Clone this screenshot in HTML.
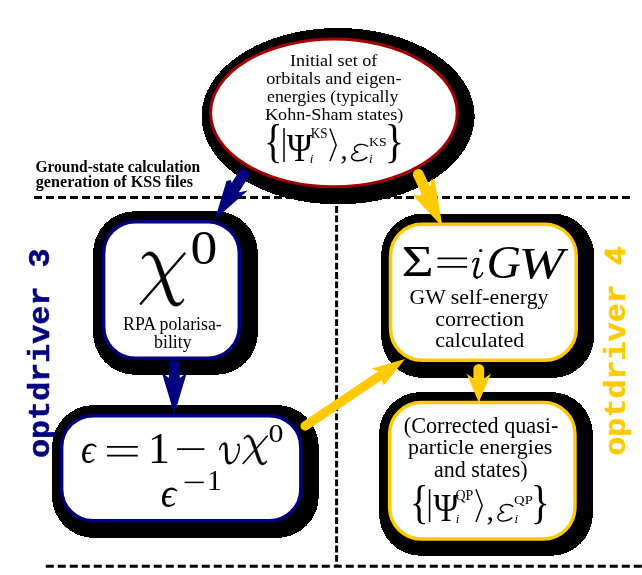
<!DOCTYPE html>
<html>
<head>
<meta charset="utf-8">
<title>GW flowchart</title>
<style>
html,body{margin:0;padding:0;background:#fff;}
body{width:642px;height:575px;overflow:hidden;}
svg{display:block;will-change:transform;}
text{font-family:"Liberation Serif",serif;fill:#000;}
.s{font-family:"Liberation Serif",serif;}
.i{font-family:"Liberation Serif",serif;font-style:italic;}
.m{font-family:"Liberation Mono",monospace;font-weight:bold;}
.b{font-family:"Liberation Serif",serif;font-weight:bold;}
</style>
</head>
<body>
<svg width="642" height="575" viewBox="0 0 642 575">
<rect x="0" y="0" width="642" height="575" fill="#ffffff"/>

<!-- dashed guide lines -->
<g stroke="#000" stroke-width="3" fill="none">
  <line x1="34" y1="197.5" x2="630" y2="197.5" stroke-dasharray="8 4"/>
  <line x1="45.8" y1="566.3" x2="650" y2="566.3" stroke-dasharray="8 4"/>
  <line x1="336.6" y1="196.67" x2="336.6" y2="567" stroke-dasharray="6.8 2.63"/>
</g>


<!-- black shadows -->
<g fill="#000" shape-rendering="crispEdges">
  <ellipse cx="338.1" cy="116.2" rx="136.6" ry="88.2"/>
  <rect x="93" y="211.2" width="164.9" height="163.6" rx="42" ry="42"/>
  <rect x="381.1" y="213.5" width="213.1" height="164.5" rx="42" ry="42"/>
  <rect x="52" y="405" width="266.8" height="133" rx="42" ry="42"/>
  <rect x="379" y="392" width="213.9" height="163.8" rx="42" ry="42"/>
</g>

<!-- shapes -->
<ellipse cx="333.9" cy="112.9" rx="123.3" ry="73.9" fill="#fff" stroke="#a40000" stroke-width="3"/>
<g fill="#fff" stroke="#000080" stroke-width="3.5">
  <rect x="103.65" y="221.65" width="135.7" height="136.5" rx="31.5" ry="31.5"/>
  <rect x="61.65" y="415.65" width="239.2" height="105" rx="31.5" ry="31.5"/>
</g>
<g fill="#fff" stroke="#ffcb00" stroke-width="3.5">
  <rect x="390.55" y="224.15" width="185.7" height="136.1" rx="31.5" ry="31.5"/>
  <rect x="389.65" y="402.45" width="185.3" height="136.5" rx="31.5" ry="31.5"/>
</g>

<!-- arrows -->
<!-- blue: ellipse -> chi0 -->
<g fill="#000080" stroke="none">
  <line x1="243.5" y1="174.6" x2="230.5" y2="195" stroke="#000080" stroke-width="11" stroke-linecap="round"/>
  <polygon points="214.9,219.4 226.5,180.9 230.8,180.1 232.2,184 239.3,192.2 247.8,190.4"/>
  <line x1="174.35" y1="365.2" x2="174.35" y2="388.5" stroke="#000080" stroke-width="10.8" stroke-linecap="round"/>
  <path transform="translate(174.35,414.5) rotate(90)" d="M0,0 L-42,-12.5 L-36.5,-5.4 L-36.5,5.4 L-42,12.5 Z"/>
</g>
<g fill="#ffcb00" stroke="none">
  <line x1="418.3" y1="174.3" x2="430" y2="199.5" stroke="#ffcb00" stroke-width="10.8" stroke-linecap="round"/>
  <polygon points="442.5,226.8 412.4,194.9 419.8,195.6 430.9,185 430.9,179.6 434.6,179.6"/>
  <line x1="478.8" y1="369.3" x2="478.8" y2="382.4" stroke="#ffcb00" stroke-width="10.8" stroke-linecap="round"/>
  <path transform="translate(478.8,402.4) rotate(90)" d="M0,0 L-29,-12.2 L-24,-5.4 L-24,5.4 L-29,12.2 Z"/>
  <line x1="305.2" y1="425.9" x2="386" y2="371.6" stroke="#ffcb00" stroke-width="9.5" stroke-linecap="round"/>
  <polygon points="405,359 371.8,368.4 378.2,371.6 382.1,381 383,384.7 385.4,383.8"/>
</g>

<!-- BEGIN TEXT -->
<text class="s" transform="translate(289.9,65.7) scale(1.071,1)" font-size="16.90">Initial set of</text>
<text class="s" transform="translate(266.2,83.9) scale(1.076,1)" font-size="16.90">orbitals and eigen-</text>
<text class="s" transform="translate(267.0,101.9) scale(1.052,1)" font-size="16.90">energies (typically</text>
<text class="s" transform="translate(265.0,119.6) scale(1.073,1)" font-size="16.90">Kohn-Sham states)</text>
<text class="b" transform="translate(35.4,171.9) scale(0.982,1)" font-size="15.80">Ground-state calculation</text>
<text class="b" transform="translate(35.8,187.3) scale(1.021,1)" font-size="15.80">generation of KSS files</text>
<text class="s" x="123.1" y="330.0" font-size="17.80">RPA polarisa-</text>
<text class="s" x="154.1" y="348.1" font-size="17.80">bility</text>
<text class="s" x="409.5" y="303.7" font-size="21.79">GW self-energy</text>
<text class="s" x="435.3" y="326.3" font-size="21.97">correction</text>
<text class="s" x="435.3" y="347.4" font-size="21.96">calculated</text>
<text class="s" x="403.8" y="433.0" font-size="22.18">(Corrected quasi-</text>
<text class="s" x="408.1" y="454.1" font-size="21.98">particle energies</text>
<text class="s" x="434.0" y="476.5" font-size="22.02">and states)</text>
<!-- END TEXT -->
<!-- BEGIN MATH -->
<!-- ellipse math -->
<text class="s" transform="translate(264.0,157.3) scale(0.824,1)" font-size="46.8">{</text>
<line x1="284" y1="128.1" x2="284" y2="161.9" stroke="#000" stroke-width="1.5"/>
<text class="s" transform="translate(286.9,160.8) scale(0.856,1)" font-size="39.9">Ψ</text>
<text class="s" transform="translate(310.7,137.7) scale(0.955,1)" font-size="13.8">KS</text>
<text class="i" x="309.8" y="162.6" font-size="13.0">i</text>
<polyline points="329.9,128.5 336.2,145.3 329.9,161.3" fill="none" stroke="#000" stroke-width="1.4"/>
<text class="s" x="340.6" y="159.3" font-size="28.4">,</text>
<path fill="none" stroke="#000" stroke-linecap="round" vector-effect="non-scaling-stroke" stroke-width="1.4" transform="translate(335.10,125.93) scale(0.1087,0.1056)" d="M300,192 C280,178 250,172 225,176 C195,181 172,200 178,222 C182,238 198,246 215,248 C185,252 155,268 152,292 C150,315 172,330 205,330 C240,330 270,318 292,298"/>
<text class="s" transform="translate(369.0,146.2) scale(1.098,1)" font-size="12.5">KS</text>
<text class="i" x="369.0" y="162.6" font-size="13.1">i</text>
<text class="s" transform="translate(384.7,157.4) scale(0.860,1)" font-size="46.8">}</text>
<!-- chi0 -->
<path stroke="#000" stroke-width="0.8" vector-effect="non-scaling-stroke" stroke-linejoin="round" transform="translate(130.46,224.96) scale(0.1540,0.1566)" d="M75,213 C85,190 105,172 128,172 C160,172 185,215 200,260 L265,440 C275,470 285,498 305,498 C322,498 335,488 343,472 L348,476 C338,500 318,518 295,518 C262,518 245,480 232,440 L165,245 C155,215 140,192 120,192 C102,192 90,202 80,217 Z M350,176 L358,183 L68,510 L60,503 Z"/>
<text class="s" transform="translate(190.6,263.6) scale(1.126,1)" font-size="47.6">0</text>
<!-- sigma -->
<text class="s" transform="translate(401.4,276.4) scale(1.238,1)" font-size="44.7">Σ</text>
<path d="M437.5,258.4H467.1M437.5,266.8H467.1" stroke="#000" stroke-width="1.7" fill="none"/>
<g transform="translate(398,238) scale(0.14019)" fill="none" stroke="#000" stroke-linecap="round"><path vector-effect="non-scaling-stroke" stroke-width="2.7" d="M572,150 C570,170 548,235 546,255 C545,272 552,282 564,282"/><path vector-effect="non-scaling-stroke" stroke-width="1.4" d="M532,172 C540,152 556,138 572,150 M564,282 C582,282 596,268 604,248"/><circle cx="590" cy="90" r="12" fill="#000" stroke="none"/></g>
<text class="i" transform="translate(486.6,277.6) scale(1.050,1)" font-size="45.5">G</text>
<text class="i" transform="translate(518.6,277.5) scale(1.224,1)" font-size="44.8">W</text>
<!-- eps -->
<text class="i" transform="translate(81.1,462.6) scale(0.918,1)" font-size="39.5">ϵ</text>
<path d="M107,446.8H137.8M107,455.6H137.8M177.1,449.2H204.4" stroke="#000" stroke-width="1.7" fill="none"/>
<text class="s" transform="translate(148.0,463.0) scale(0.976,1)" font-size="44.8">1</text>
<g transform="translate(210,420) scale(0.12461)" fill="none" stroke="#000" stroke-linecap="round"><path vector-effect="non-scaling-stroke" stroke-width="2.9" d="M116,190 C128,190 130,205 130,225 L132,300 C133,330 142,346 160,346"/><path vector-effect="non-scaling-stroke" stroke-width="1.5" d="M78,236 C84,208 98,188 116,190 M160,346 C195,346 236,275 236,215"/><circle cx="228" cy="200" r="11" fill="#000" stroke="none"/></g>
<path stroke="#000" stroke-width="0.8" vector-effect="non-scaling-stroke" stroke-linejoin="round" transform="translate(237.55,420.54) scale(0.0842,0.0853)" d="M75,213 C85,190 105,172 128,172 C160,172 185,215 200,260 L265,440 C275,470 285,498 305,498 C322,498 335,488 343,472 L348,476 C338,500 318,518 295,518 C262,518 245,480 232,440 L165,245 C155,215 140,192 120,192 C102,192 90,202 80,217 Z M350,176 L358,183 L68,510 L60,503 Z"/>
<text class="s" transform="translate(268.5,442.1) scale(1.162,1)" font-size="25.8">0</text>
<text class="i" transform="translate(160.7,507.0) scale(0.899,1)" font-size="42.8">ϵ</text>
<path d="M184.6,482.4H203.8" stroke="#000" stroke-width="1.5" fill="none"/>
<text class="s" transform="translate(207.0,489.9) scale(1.010,1)" font-size="29.2">1</text>
<!-- QP math -->
<text class="s" transform="translate(410.0,518.3) scale(0.826,1)" font-size="46.6">{</text>
<line x1="429.6" y1="489.2" x2="429.6" y2="521.9" stroke="#000" stroke-width="1.5"/>
<text class="s" transform="translate(433.4,521.3) scale(0.870,1)" font-size="39.1">Ψ</text>
<text class="s" transform="translate(455.5,500.3) scale(1.004,1)" font-size="13.9">QP</text>
<text class="i" x="455.8" y="523.2" font-size="12.8">i</text>
<polyline points="475.9,489.2 482.2,505.6 475.9,521.9" fill="none" stroke="#000" stroke-width="1.4"/>
<text class="s" x="486.4" y="519.9" font-size="30.0">,</text>
<path fill="none" stroke="#000" stroke-linecap="round" vector-effect="non-scaling-stroke" stroke-width="1.4" transform="translate(482.70,485.82) scale(0.1000,0.1069)" d="M300,192 C280,178 250,172 225,176 C195,181 172,200 178,222 C182,238 198,246 215,248 C185,252 155,268 152,292 C150,315 172,330 205,330 C240,330 270,318 292,298"/>
<text class="s" transform="translate(514.1,504.4) scale(1.107,1)" font-size="13.3">QP</text>
<text class="i" x="514.5" y="523.2" font-size="12.8">i</text>
<text class="s" transform="translate(530.7,518.3) scale(0.848,1)" font-size="46.6">}</text>
<!-- END MATH -->

<!-- side labels -->
<text class="m" font-size="29.7" style="fill:#000080;stroke:#000080;stroke-width:0.5" transform="translate(49.2,458) rotate(-90) scale(1.069,1)">optdriver 3</text>
<text class="m" font-size="29.7" style="fill:#ffcb00;stroke:#ffcb00;stroke-width:0.5" transform="translate(625.4,455.7) rotate(-90) scale(1.069,1)">optdriver 4</text>

</svg>
</body>
</html>
